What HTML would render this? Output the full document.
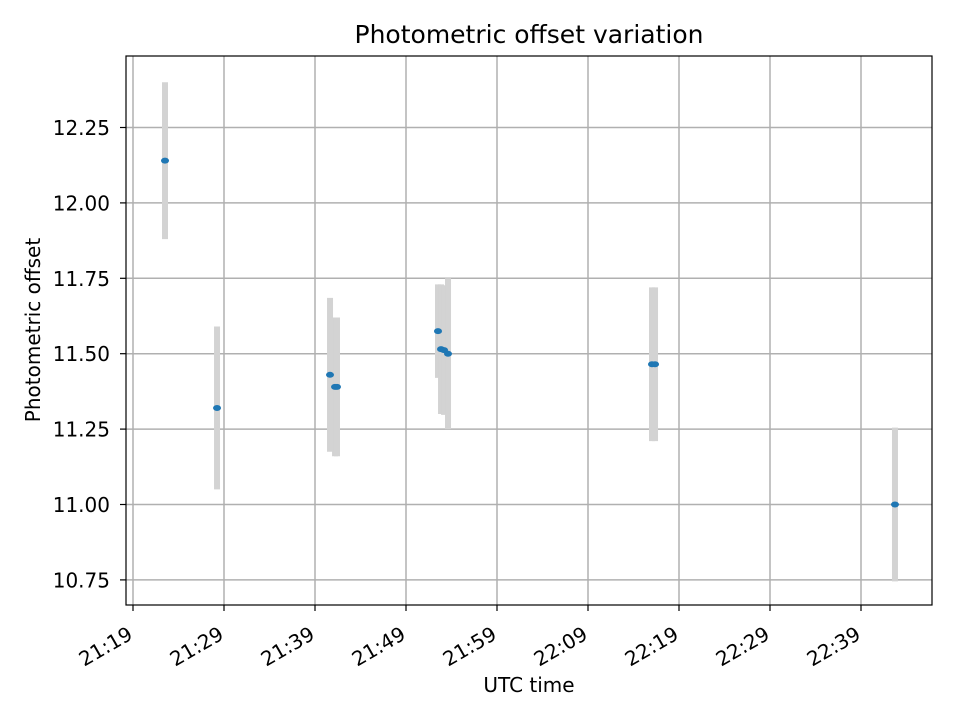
<!DOCTYPE html>
<html><head><meta charset="utf-8"><style>
body{margin:0;background:#fff}
svg text{font-family:"DejaVu Sans","Liberation Sans",sans-serif;fill:#000}
</style></head><body>
<svg id="c" width="960" height="720" xmlns="http://www.w3.org/2000/svg"></svg>
<script>
const times=["21:22:31","21:28:14","21:40:39","21:41:12","21:41:25","21:52:31","21:52:51","21:53:11","21:53:37","22:16:02","22:16:22","22:42:44"];
const offsets=[12.14,11.32,11.43,11.39,11.39,11.575,11.515,11.512,11.50,11.465,11.465,11.00];
const errors=[0.26,0.27,0.255,0.23,0.23,0.155,0.215,0.215,0.25,0.255,0.255,0.255];
const yTicks=[10.75,11.00,11.25,11.50,11.75,12.00,12.25];
const yTickLabels=["10.75","11.00","11.25","11.50","11.75","12.00","12.25"];
const xTickLabels=["21:19","21:29","21:39","21:49","21:59","22:09","22:19","22:29","22:39"];

const svg=document.getElementById('c');const NS="http://www.w3.org/2000/svg";
const L=126,R=932,T=56,B=605;
function mins(s){const p=s.split(':').map(Number);return p[0]*60+p[1]+(p[2]||0)/60;}
const x0=mins("21:19");
const X=t=>133+(mins(t)-x0)*9.1;
const Y=v=>504.5-(v-11.0)*301.6;
function el(tag,attrs,name,parent){const e=document.createElementNS(NS,tag);for(const k in attrs)e.setAttribute(k,attrs[k]);


(parent||svg).appendChild(e);return e;}
const grid=el('g',{},'grid');
yTicks.forEach((v,i)=>{const y=Y(v);
el('line',{x1:L,x2:R,y1:y,y2:y,stroke:'#b0b0b0','stroke-width':1.5},'y-gridline',grid);
el('line',{x1:L-6,x2:L,y1:y,y2:y,stroke:'#000','stroke-width':1.2},'y-tick',grid);
const t=el('text',{x:L-16,y:y+7.5,'text-anchor':'end','font-size':'20'},'y-tick-label',grid);t.textContent=yTickLabels[i];});
xTickLabels.forEach(s=>{const x=X(s);
el('line',{x1:x,x2:x,y1:T,y2:B,stroke:'#b0b0b0','stroke-width':1.5},'x-gridline',grid);
el('line',{x1:x,x2:x,y1:B,y2:B+6,stroke:'#000','stroke-width':1.2},'x-tick',grid);
const t=el('text',{x:x+1,y:B+33,'text-anchor':'end','font-size':'20',transform:`rotate(-30 ${x+1} ${B+33})`},'x-tick-label',grid);t.textContent=s;});
const eb=el('g',{},'error-bars');
times.forEach((t,i)=>{const x=X(t);
el('line',{x1:x,x2:x,y1:Y(offsets[i]+errors[i]),y2:Y(offsets[i]-errors[i]),stroke:'#d3d3d3','stroke-width':6},'error-bar',eb);});
const pts=el('g',{},'data-points');
times.forEach((t,i)=>{el('ellipse',{cx:X(t),cy:Y(offsets[i]),rx:4,ry:3,fill:'#1f77b4'},'data-point',pts);});
el('rect',{x:L,y:T,width:R-L,height:B-T,fill:'none',stroke:'#000','stroke-width':1.2},'plot-frame');
const ti=el('text',{x:529,y:43,'text-anchor':'middle','font-size':'25'},'chart-title');ti.textContent="Photometric offset variation";
const xl=el('text',{x:529,y:692,'text-anchor':'middle','font-size':'20'},'x-axis-title');xl.textContent="UTC time";
const yl=el('text',{x:40,y:330,'text-anchor':'middle','font-size':'20',transform:'rotate(-90 40 330)'},'y-axis-title');yl.textContent="Photometric offset";
</script>
</body></html>
